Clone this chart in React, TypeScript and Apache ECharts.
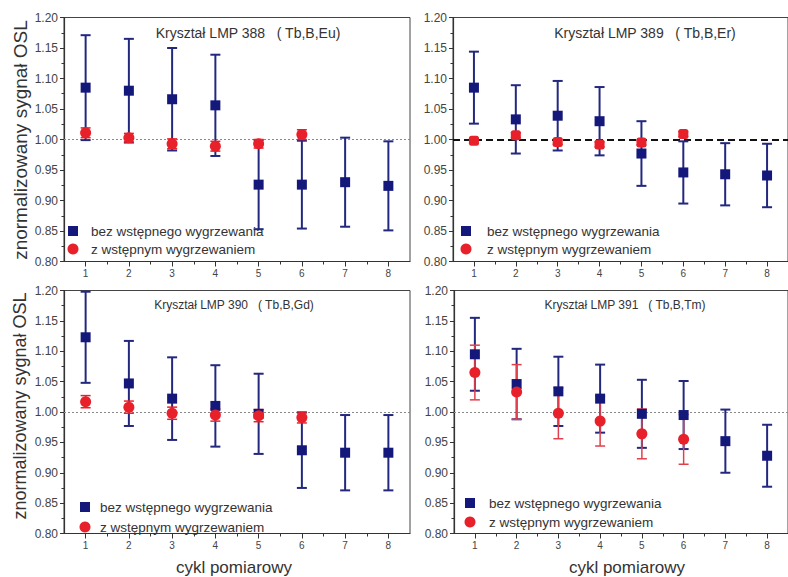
import React, { useEffect, useRef } from "react";
import * as echarts from "echarts";

const cycles = [1, 2, 3, 4, 5, 6, 7, 8];
const redCycles = [1, 2, 3, 4, 5, 6];

const titles = [
  "Kryształ LMP 388   ( Tb,B,Eu)",
  "Kryształ LMP 389   ( Tb,B,Er)",
  "Kryształ LMP 390   ( Tb,B,Gd)",
  "Kryształ LMP 391   ( Tb,B,Tm)",
];
const legendBlue = "bez wstępnego wygrzewania";
const legendRed = "z wstępnym wygrzewaniem";
const yTitle = "znormalizowany sygnał OSL";
const xTitle = "cykl pomiarowy";

// LMP 388
const p388Blue = [1.085, 1.080, 1.066, 1.056, 0.926, 0.926, 0.930, 0.924];
const p388BlueErr = [0.086, 0.085, 0.084, 0.083, 0.073, 0.072, 0.073, 0.073];
const p388Red = [1.011, 1.003, 0.993, 0.989, 0.993, 1.008];
const p388RedErr = [0.008, 0.007, 0.008, 0.008, 0.007, 0.008];
// LMP 389
const p389Blue = [1.085, 1.033, 1.039, 1.030, 0.977, 0.946, 0.943, 0.941];
const p389BlueErr = [0.059, 0.056, 0.057, 0.056, 0.053, 0.051, 0.051, 0.052];
const p389Red = [0.998, 1.007, 0.996, 0.992, 0.995, 1.009];
const p389RedErr = [0.004, 0.004, 0.004, 0.004, 0.004, 0.004];
// LMP 390
const p390Blue = [1.123, 1.047, 1.022, 1.010, 0.997, 0.937, 0.933, 0.933];
const p390BlueErr = [0.075, 0.070, 0.068, 0.067, 0.066, 0.062, 0.062, 0.062];
const p390Red = [1.017, 1.008, 0.998, 0.995, 0.994, 0.991];
const p390RedErr = [0.010, 0.010, 0.010, 0.010, 0.010, 0.009];
// LMP 391
const p391Blue = [1.095, 1.046, 1.034, 1.022, 0.997, 0.995, 0.952, 0.928];
const p391BlueErr = [0.060, 0.058, 0.057, 0.056, 0.056, 0.056, 0.052, 0.051];
const p391Red = [1.065, 1.033, 0.998, 0.985, 0.964, 0.955];
const p391RedErr = [0.045, 0.045, 0.042, 0.041, 0.041, 0.041];

const BLUE = "#14187a";
const BLUE_ERR = "#23287f";
const RED = "#e8202a";
const FONT = "Liberation Sans, Arial, sans-serif";

type Panel = {
  blue: number[]; blueErr: number[]; red: number[]; redErr: number[];
  redErrColor: string; redSymbol: string; refLine: any;
  grid: { left: number; top: number; width: number; height: number };
  title: { x: number; y: number; size: number };
  legend: { x: number; yBlue: number; yRed: number; textX: number };
};

const dottedRef = { color: "#8a8a8a", type: [2, 2], width: 1 };
const dashedRef = { color: "#111", type: [7, 4], width: 2 };

const panels: Panel[] = [
  {
    blue: p388Blue, blueErr: p388BlueErr, red: p388Red, redErr: p388RedErr,
    redErrColor: RED, redSymbol: "circle", refLine: dottedRef,
    grid: { left: 64, top: 17.5, width: 346, height: 244 },
    title: { x: 248, y: 33, size: 14 },
    legend: { x: 73, yBlue: 231, yRed: 249, textX: 91 },
  },
  {
    blue: p389Blue, blueErr: p389BlueErr, red: p389Red, redErr: p389RedErr,
    redErrColor: RED, redSymbol: "roundRect", refLine: dashedRef,
    grid: { left: 453, top: 17.5, width: 346, height: 244 },
    title: { x: 645, y: 33, size: 14 },
    legend: { x: 466, yBlue: 231, yRed: 249, textX: 487 },
  },
  {
    blue: p390Blue, blueErr: p390BlueErr, red: p390Red, redErr: p390RedErr,
    redErrColor: RED, redSymbol: "circle", refLine: dottedRef,
    grid: { left: 64, top: 290.5, width: 346, height: 243 },
    title: { x: 234, y: 305, size: 12 },
    legend: { x: 85, yBlue: 507, yRed: 527, textX: 100 },
  },
  {
    blue: p391Blue, blueErr: p391BlueErr, red: p391Red, redErr: p391RedErr,
    redErrColor: "#e0404e", redSymbol: "circle", refLine: dottedRef,
    grid: { left: 454, top: 290.5, width: 346, height: 243 },
    title: { x: 625, y: 305, size: 12 },
    legend: { x: 470, yBlue: 503, yRed: 522, textX: 489 },
  },
];

function errSeries(name: string, xs: number[], vals: number[], errs: number[], color: string, lw: number, capW: number, gi: number) {
  return {
    type: "custom",
    name,
    xAxisIndex: gi * 2,
    yAxisIndex: gi,
    silent: true,
    data: xs.map((x, i) => [x, vals[i] - errs[i], vals[i] + errs[i]]),
    encode: { x: 0, y: [1, 2] },
    renderItem: (params: any, api: any) => {
      const x = api.value(0);
      const lo = api.coord([x, api.value(1)]);
      const hi = api.coord([x, api.value(2)]);
      const hw = capW / 2;
      const style = { stroke: color, lineWidth: lw };
      return {
        type: "group",
        children: [
          { type: "line", shape: { x1: hi[0], y1: hi[1], x2: lo[0], y2: lo[1] }, style },
          { type: "line", shape: { x1: hi[0] - hw, y1: hi[1], x2: hi[0] + hw, y2: hi[1] }, style },
          { type: "line", shape: { x1: lo[0] - hw, y1: lo[1], x2: lo[0] + hw, y2: lo[1] }, style },
        ],
      };
    },
  };
}

function buildOption() {
  const grids: any[] = [];
  const xAxes: any[] = [];
  const yAxes: any[] = [];
  const series: any[] = [];
  const graphics: any[] = [];

  panels.forEach((p, gi) => {
    grids.push({ ...p.grid, show: true, borderColor: "#444", borderWidth: 1, backgroundColor: "transparent" });
    xAxes.push({
      type: "value", gridIndex: gi, min: 0.5, max: 8.5,
      axisLine: { show: true, onZero: false, lineStyle: { color: "#333", width: 1.2 } },
      axisTick: { show: true, inside: false, length: 5, customValues: cycles, lineStyle: { color: "#333" } },
      axisLabel: { show: true, customValues: cycles, fontSize: 10, color: "#444", margin: 7, fontFamily: FONT },
      splitLine: { show: false },
    });
    xAxes.push({
      type: "value", gridIndex: gi, min: 0.5, max: 8.5, position: "bottom",
      axisLine: { show: false },
      axisTick: { show: true, inside: false, length: 3, customValues: cycles.slice(0, 7).map((c) => c + 0.5), lineStyle: { color: "#333" } },
      axisLabel: { show: false },
      splitLine: { show: false },
    });
    yAxes.push({
      type: "value", gridIndex: gi, min: 0.8, max: 1.2, interval: 0.05,
      axisLine: { show: true, onZero: false, lineStyle: { color: "#333", width: 1.2 } },
      axisTick: { show: true, inside: false, length: 4, lineStyle: { color: "#333" } },
      minorTick: { show: true, splitNumber: 2, length: 2.5, lineStyle: { color: "#333" } },
      axisLabel: { fontSize: 12, color: "#444", margin: 6, fontFamily: FONT, formatter: (v: number) => v.toFixed(2) },
      splitLine: { show: false },
    });

    series.push(errSeries("eb" + gi, cycles, p.blue, p.blueErr, BLUE_ERR, 2, 10, gi));
    series.push(errSeries("er" + gi, redCycles, p.red, p.redErr, p.redErrColor, 1.5, 10, gi));
    series.push({
      type: "scatter", name: legendBlue, xAxisIndex: gi * 2, yAxisIndex: gi,
      symbol: "rect", symbolSize: 10, itemStyle: { color: BLUE, opacity: 1 },
      data: cycles.map((c, i) => [c, p.blue[i]]),
      markLine: {
        silent: true, symbol: ["none", "none"], label: { show: false },
        lineStyle: p.refLine, data: [{ yAxis: 1 }], z: 1,
      },
    });
    series.push({
      type: "scatter", name: legendRed, xAxisIndex: gi * 2, yAxisIndex: gi,
      symbol: p.redSymbol, symbolSize: p.redSymbol === "circle" ? 11 : 10,
      itemStyle: { color: RED, opacity: 1 },
      data: redCycles.map((c, i) => [c, p.red[i]]),
    });

    // legend drawn as graphic (icons + labels)
    const lg = p.legend;
    graphics.push({ type: "rect", shape: { x: lg.x - 5, y: lg.yBlue - 5, width: 10, height: 10 }, style: { fill: BLUE } });
    graphics.push({ type: "circle", shape: { cx: lg.x, cy: lg.yRed, r: 5.5 }, style: { fill: RED } });
    graphics.push({
      type: "text", x: lg.textX, y: lg.yBlue,
      style: { text: legendBlue, fontSize: 13.5, fill: "#333", fontFamily: FONT, textAlign: "left", textVerticalAlign: "middle" },
    });
    graphics.push({
      type: "text", x: lg.textX, y: lg.yRed,
      style: { text: legendRed, fontSize: 13.5, fill: "#333", fontFamily: FONT, textAlign: "left", textVerticalAlign: "middle" },
    });

    graphics.push({
      type: "text", x: p.title.x, y: p.title.y,
      style: { text: titles[gi], fontSize: p.title.size, fill: "#333", fontFamily: FONT, textAlign: "center", textVerticalAlign: "middle" },
    });
  });

  graphics.push({
    type: "text", x: 20, y: 140, rotation: Math.PI / 2,
    style: { text: yTitle, fontSize: 19, fill: "#333", fontFamily: FONT, textAlign: "center", textVerticalAlign: "middle" },
  });
  graphics.push({
    type: "text", x: 20, y: 406, rotation: Math.PI / 2,
    style: { text: yTitle, fontSize: 18, fill: "#333", fontFamily: FONT, textAlign: "center", textVerticalAlign: "middle" },
  });
  graphics.push({
    type: "text", x: 234, y: 567,
    style: { text: xTitle, fontSize: 17, fill: "#333", fontFamily: FONT, textAlign: "center", textVerticalAlign: "middle" },
  });
  graphics.push({
    type: "text", x: 627, y: 567,
    style: { text: xTitle, fontSize: 17, fill: "#333", fontFamily: FONT, textAlign: "center", textVerticalAlign: "middle" },
  });

  return {
    animation: false,
    backgroundColor: "#ffffff",
    grid: grids,
    xAxis: xAxes,
    yAxis: yAxes,
    series,
    graphic: graphics,
  };
}

export default function App() {
  const ref = useRef<HTMLDivElement>(null);
  useEffect(() => {
    if (!ref.current) return;
    const chart = echarts.init(ref.current, null, { renderer: "svg" });
    chart.setOption(buildOption() as any);
    return () => chart.dispose();
  }, []);
  return (
    <div
      ref={ref}
      style={{ position: "fixed", left: 0, top: 0, width: 788, height: 577, background: "#fff" }}
    />
  );
}
